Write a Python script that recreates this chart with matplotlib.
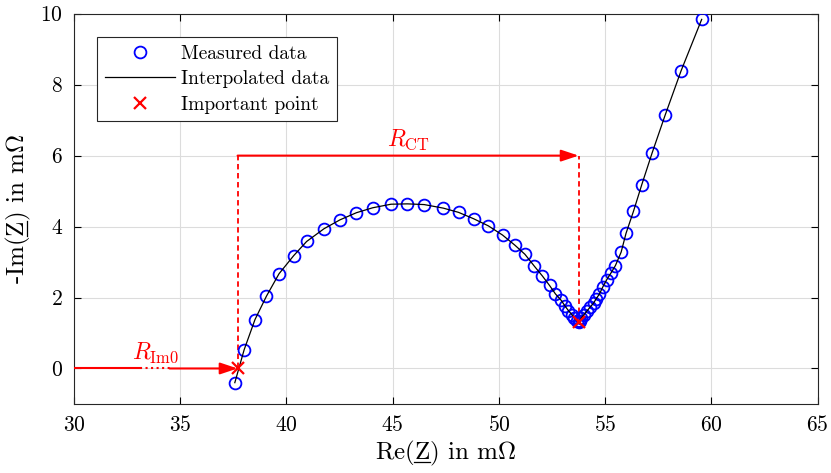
import numpy as np
import matplotlib
matplotlib.use("Agg")
import matplotlib.pyplot as plt
from matplotlib.lines import Line2D

plt.rcParams['font.family'] = 'serif'
plt.rcParams['font.serif'] = ['cmr10', 'DejaVu Serif']
plt.rcParams['mathtext.fontset'] = 'cm'
plt.rcParams['axes.formatter.use_mathtext'] = True
plt.rcParams['axes.unicode_minus'] = False

# Measured data (Re, -Im) in mOhm
re_z = [37.57, 38.01, 38.52, 39.06, 39.65, 40.34, 40.95, 41.77, 42.52, 43.29,
        44.06, 44.92, 45.69, 46.48, 47.38, 48.10, 48.81, 49.50, 50.17, 50.74,
        51.22, 51.67, 52.04, 52.38, 52.66, 52.93, 53.12, 53.27, 53.43, 53.55,
        53.66, 53.75, 53.81, 53.87, 53.99, 54.13, 54.29, 54.45, 54.57, 54.73,
        54.88, 55.07, 55.28, 55.48, 55.75, 55.98, 56.33, 56.72, 57.21, 57.82,
        58.57, 59.54]
neg_im_z = [-0.40, 0.53, 1.38, 2.04, 2.67, 3.18, 3.58, 3.94, 4.19, 4.39,
            4.53, 4.63, 4.64, 4.62, 4.52, 4.40, 4.22, 4.02, 3.76, 3.48,
            3.22, 2.88, 2.61, 2.34, 2.10, 1.92, 1.75, 1.63, 1.52, 1.43,
            1.35, 1.30, 1.33, 1.42, 1.51, 1.61, 1.73, 1.84, 1.96, 2.10,
            2.29, 2.50, 2.70, 2.90, 3.28, 3.81, 4.43, 5.18, 6.08, 7.14,
            8.39, 9.84]

# Important points
imp_x = [37.70, 53.75]
imp_y = [0.0, 1.30]
r_ct_level = 6.0
x_start = 30.0

xticks = [30, 35, 40, 45, 50, 55, 60, 65]
yticks = [0, 2, 4, 6, 8, 10]

fig = plt.figure(figsize=(8.31, 4.73), dpi=100)
ax = fig.add_axes([0.089, 0.146, 0.895, 0.825])

ax.plot(re_z, neg_im_z, 'o', mfc='none', mec='#0000FF', ms=8.5, mew=1.3,
        label='Measured data', zorder=3)
ax.plot(re_z, neg_im_z, '-', color='black', lw=0.9, label='Interpolated data', zorder=4)
ax.plot(imp_x, imp_y, 'x', color='#FF0000', ms=8, mew=1.6, label='Important point', zorder=5)

red = '#FF0000'
aprops = dict(arrowstyle='-|>,head_length=1.05,head_width=0.35', color=red, lw=1.5,
              shrinkA=0, shrinkB=0)
ax.plot([imp_x[0], imp_x[0]], [imp_y[0], r_ct_level], '--', color=red, lw=1.3, dashes=(3, 2), zorder=2)
ax.plot([imp_x[1], imp_x[1]], [imp_y[1], r_ct_level], '--', color=red, lw=1.3, dashes=(3, 2), zorder=2)
ax.annotate('', xy=(imp_x[1], r_ct_level), xytext=(imp_x[0], r_ct_level),
            arrowprops=aprops, zorder=6)
ax.text((imp_x[0] + imp_x[1]) / 2, r_ct_level + 0.1, r'$R_{\mathrm{CT}}$', color=red,
        ha='center', va='bottom', fontsize=17)
b1, b2 = 33.1, 34.5
ax.plot([x_start, b1], [0, 0], '-', color=red, lw=1.5, zorder=6, solid_capstyle='butt')
ax.plot([b1, b2], [0, 0], ':', color=red, lw=1.5, zorder=6)
ax.annotate('', xy=(imp_x[0], 0), xytext=(b2, 0), arrowprops=aprops, zorder=6)
ax.text((x_start + imp_x[0]) / 2, 0.1, r'$R_{\mathrm{Im0}}$', color=red,
        ha='center', va='bottom', fontsize=17)

ax.set_xlim(30, 65)
ax.set_ylim(-1, 10)
ax.set_xticks(xticks)
ax.set_yticks(yticks)
ax.tick_params(direction='in', top=True, right=True, labelsize=15.5, length=5, width=0.8, pad=8)
ax.grid(True, color='#dcdcdc', lw=0.8)
ax.set_axisbelow(True)
for s in ax.spines.values():
    s.set_linewidth(0.8)
    s.set_color('#262626')

xl_pre, xl_z, xl_post = 'Re(', 'Z', r') in m$\Omega$'
yl_pre, yl_z, yl_post = '-Im(', 'Z', r') in m$\Omega$'
xlab = ax.set_xlabel(xl_pre + xl_z + xl_post, fontsize=18, labelpad=3)
ylab = ax.set_ylabel(yl_pre + yl_z + yl_post, fontsize=18, labelpad=5)

leg = ax.legend(loc='upper left', bbox_to_anchor=(0.031, 0.94), fontsize=14, frameon=True,
                fancybox=False, edgecolor='#262626', framealpha=1, handlelength=3.6,
                borderpad=0.4, labelspacing=0.38, handletextpad=0.3, borderaxespad=0)
leg.get_frame().set_linewidth(0.8)

# underline the Z in axis labels
fig.canvas.draw()
r = fig.canvas.get_renderer()
inv = fig.transFigure.inverted()


def underline(label, pre, z, vertical):
    prop = label.get_fontproperties()
    w_pre = r.get_text_width_height_descent(pre, prop, ismath=False)[0]
    w_pz = r.get_text_width_height_descent(pre + z, prop, ismath=False)[0]
    bb = label.get_window_extent(r)
    _, _, d = r.get_text_width_height_descent(label.get_text(), prop, ismath=True)
    off = 2.2
    if not vertical:
        base = bb.y0 + d
        p0 = (bb.x0 + w_pre, base - off)
        p1 = (bb.x0 + w_pz, base - off)
    else:
        base = bb.x1 - d
        p0 = (base + off, bb.y0 + w_pre)
        p1 = (base + off, bb.y0 + w_pz)
    a = inv.transform(p0)
    b = inv.transform(p1)
    fig.add_artist(Line2D([a[0], b[0]], [a[1], b[1]], color='black', lw=0.9, transform=fig.transFigure))


underline(xlab, xl_pre, xl_z, False)
underline(ylab, yl_pre, yl_z, True)

fig.savefig('out.png', dpi=100)
